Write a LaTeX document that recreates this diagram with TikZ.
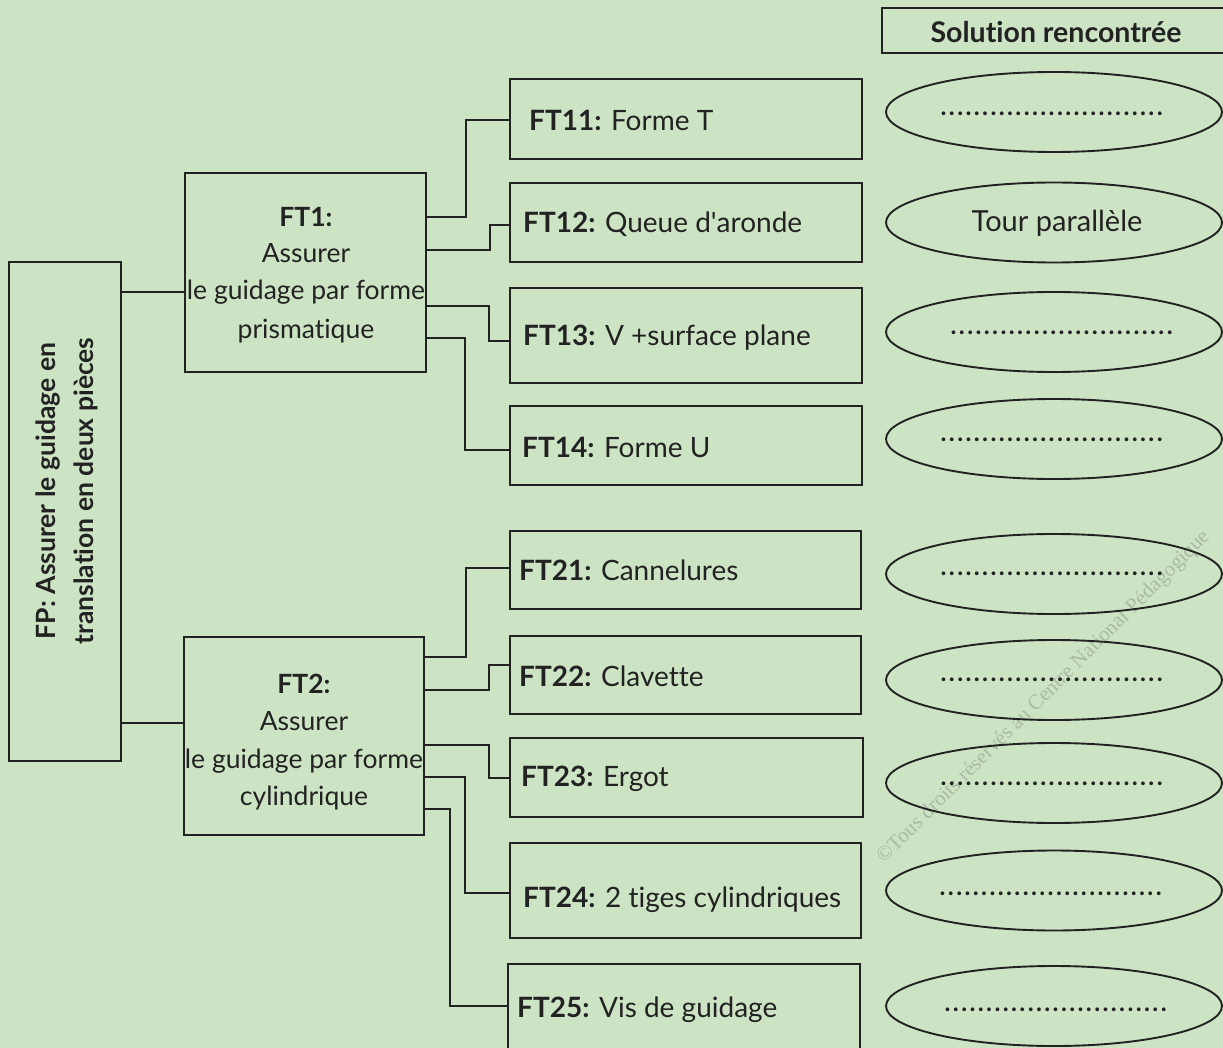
\documentclass[tikz,border=0pt]{standalone}
\usepackage{fontspec}
\setmainfont{Lato}[Ligatures={TeX,NoCommon}]
\newfontfamily\wmfont{Liberation Serif}
\usetikzlibrary{shapes.geometric}
\definecolor{bg}{RGB}{205,228,196}
\definecolor{ink}{RGB}{34,34,34}
\definecolor{wm}{RGB}{170,186,164}
\newcommand{\dotrow}{\hbox to 225pt{\leaders\hbox to 8.3pt{\hss\textbf{.}\hss}\hfill}}
\begin{document}
\begin{tikzpicture}[x=1pt,y=-1pt,
  boxst/.style={draw=ink, line width=1.9pt, rectangle, inner sep=0pt},
  ovalst/.style={draw=ink, line width=1.9pt, ellipse, inner sep=0pt, minimum width=336pt, minimum height=80pt},
  link/.style={draw=ink, line width=1.9pt},
  txt/.style={inner sep=0pt, text=ink, font=\fontsize{26.5}{30}\selectfont},
  btxt/.style={inner sep=0pt, text=ink, font=\bfseries\fontsize{26.5}{30}\selectfont},
  lbl/.style={inner sep=0pt, anchor=base west, text=ink, font=\fontsize{28}{32}\selectfont},
  dotst/.style={inner sep=0pt, anchor=base, text=ink, font=\fontsize{25}{28}\selectfont},
]
\fill[bg] (0,0) rectangle (1223,1048);
\useasboundingbox (0,0) rectangle (1223,1048);

% watermark
\node[rotate=45, anchor=base west, inner sep=0pt, text=wm, font=\wmfont\fontsize{21}{24}\selectfont] (wmark) at (884,864) {©Tous droits réservés au Centre National Pédagogique};

% heading
\node[boxst, minimum width=358pt, minimum height=45pt] (head) at (1061,30.5) {};
\node[inner sep=0pt, text=ink, anchor=base, font=\bfseries\fontsize{28.5}{32}\selectfont] (headtxt) at (1056,43) {Solution rencontrée};

% FP
\node[boxst, minimum width=112pt, minimum height=499pt] (fp) at (65,511.5) {};
\node[inner sep=0pt, text=ink, rotate=90, align=center, font=\bfseries\fontsize{26.5}{38}\selectfont] (fptxt) at (67,491) {FP: Assurer le guidage en\\translation en deux pièces};

% FT1 / FT2
\node[boxst, minimum width=241pt, minimum height=199pt] (ft1) at (305.5,272.5) {};
\node[btxt, anchor=base] (ft1a) at (306,227) {FT1:};
\node[txt, anchor=base] (ft1b) at (306,263) {Assurer};
\node[txt, anchor=base] (ft1c) at (306,300) {le guidage par forme};
\node[txt, anchor=base] (ft1d) at (306,338) {prismatique};

\node[boxst, minimum width=240pt, minimum height=198pt] (ft2) at (304,736) {};
\node[btxt, anchor=base] (ft2a) at (304,693) {FT2:};
\node[txt, anchor=base] (ft2b) at (304,730) {Assurer};
\node[txt, anchor=base] (ft2c) at (304,768) {le guidage par forme};
\node[txt, anchor=base] (ft2d) at (304,805) {cylindrique};

% FT boxes
\node[boxst, minimum width=352pt, minimum height=80pt] (ft11) at (686,119) {};
\node[lbl] (ft11t) at (529,131) {\textbf{FT11:} Forme T};
\node[boxst, minimum width=352pt, minimum height=79pt] (ft12) at (686,222.5) {};
\node[lbl] (ft12t) at (523,233) {\textbf{FT12:} Queue d\textquotesingle aronde};
\node[boxst, minimum width=352pt, minimum height=95pt] (ft13) at (686,335.5) {};
\node[lbl] (ft13t) at (523,345) {\textbf{FT13:} V +surface plane};
\node[boxst, minimum width=352pt, minimum height=79pt] (ft14) at (686,445.5) {};
\node[lbl] (ft14t) at (522,457) {\textbf{FT14:} Forme U};
\node[boxst, minimum width=351pt, minimum height=78pt] (ft21) at (685.5,570) {};
\node[lbl] (ft21t) at (519,580) {\textbf{FT21:} Cannelures};
\node[boxst, minimum width=351pt, minimum height=78pt] (ft22) at (685.5,675) {};
\node[lbl] (ft22t) at (519,686) {\textbf{FT22:} Clavette};
\node[boxst, minimum width=353pt, minimum height=79pt] (ft23) at (686.5,777.5) {};
\node[lbl] (ft23t) at (521,786) {\textbf{FT23:} Ergot};
\node[boxst, minimum width=351pt, minimum height=95pt] (ft24) at (685.5,890.5) {};
\node[lbl] (ft24t) at (523,907) {\textbf{FT24:} 2 tiges cylindriques};
\node[boxst, minimum width=352pt, minimum height=88pt] (ft25) at (684,1008) {};
\node[lbl] (ft25t) at (517,1017) {\textbf{FT25:} Vis de guidage};

% connectors
\draw[link] (fp.east |- 0,292) -- (ft1.west |- 0,292);
\draw[link] (fp.east |- 0,723) -- (ft2.west |- 0,723);
\draw[link] (ft1.east |- 0,217) -| (466,120) -- (ft11.west |- 0,120);
\draw[link] (ft1.east |- 0,250) -| (490,225) -- (ft12.west |- 0,225);
\draw[link] (ft1.east |- 0,306) -| (489,341) -- (ft13.west |- 0,341);
\draw[link] (ft1.east |- 0,338) -| (465,450) -- (ft14.west |- 0,450);
\draw[link] (ft2.east |- 0,657) -| (466,568) -- (ft21.west |- 0,568);
\draw[link] (ft2.east |- 0,690) -| (489,665) -- (ft22.west |- 0,665);
\draw[link] (ft2.east |- 0,745) -| (489,778) -- (ft23.west |- 0,778);
\draw[link] (ft2.east |- 0,777) -| (465,893) -- (ft24.west |- 0,893);
\draw[link] (ft2.east |- 0,809) -| (450,1006) -- (ft25.west |- 0,1006);

% solution ellipses
\node[ovalst] (e11) at (1054,112) {};
\node[dotst] (d11) at (1052,116) {\dotrow};
\node[ovalst] (e12) at (1054,222.5) {};
\node[inner sep=0pt, text=ink, anchor=base, font=\fontsize{29}{32}\selectfont] (d12) at (1057,232) {Tour parallèle};
\node[ovalst] (e13) at (1054,332) {};
\node[dotst] (d13) at (1062,335) {\dotrow};
\node[ovalst] (e14) at (1054,439) {};
\node[dotst] (d14) at (1052,441) {\dotrow};
\node[ovalst] (e21) at (1054,574) {};
\node[dotst] (d21) at (1052,575) {\dotrow};
\node[ovalst] (e22) at (1054,680) {};
\node[dotst] (d22) at (1052,681) {\dotrow};
\node[ovalst] (e23) at (1054,783) {};
\node[dotst] (d23) at (1052,785) {\dotrow};
\node[ovalst] (e24) at (1054,890.5) {};
\node[dotst] (d24) at (1051,895) {\dotrow};
\node[ovalst] (e25) at (1054,1006) {};
\node[dotst] (d25) at (1056,1011) {\dotrow};
\end{tikzpicture}
\end{document}
